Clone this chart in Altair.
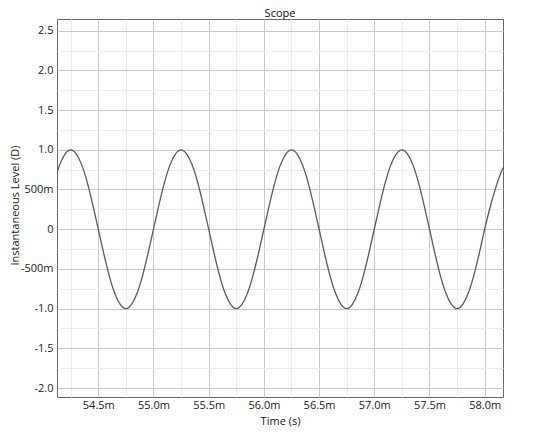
import altair as alt
import pandas as pd

# Time in milliseconds (axis labels carry the "m" suffix)
time_ms = [
    54.10, 54.15, 54.20, 54.25, 54.30, 54.35, 54.40, 54.45, 54.50, 54.55,
    54.60, 54.65, 54.70, 54.75, 54.80, 54.85, 54.90, 54.95,
    55.00, 55.05, 55.10, 55.15, 55.20, 55.25, 55.30, 55.35, 55.40, 55.45,
    55.50, 55.55, 55.60, 55.65, 55.70, 55.75, 55.80, 55.85, 55.90, 55.95,
    56.00, 56.05, 56.10, 56.15, 56.20, 56.25, 56.30, 56.35, 56.40, 56.45,
    56.50, 56.55, 56.60, 56.65, 56.70, 56.75, 56.80, 56.85, 56.90, 56.95,
    57.00, 57.05, 57.10, 57.15, 57.20, 57.25, 57.30, 57.35, 57.40, 57.45,
    57.50, 57.55, 57.60, 57.65, 57.70, 57.75, 57.80, 57.85, 57.90, 57.95,
    58.00, 58.05, 58.10, 58.15, 58.20,
]
level = [
    0.59, 0.81, 0.95, 1.00, 0.95, 0.81, 0.59, 0.31, 0.00, -0.31,
    -0.59, -0.81, -0.95, -1.00, -0.95, -0.81, -0.59, -0.31,
    0.00, 0.31, 0.59, 0.81, 0.95, 1.00, 0.95, 0.81, 0.59, 0.31,
    0.00, -0.31, -0.59, -0.81, -0.95, -1.00, -0.95, -0.81, -0.59, -0.31,
    0.00, 0.31, 0.59, 0.81, 0.95, 1.00, 0.95, 0.81, 0.59, 0.31,
    0.00, -0.31, -0.59, -0.81, -0.95, -1.00, -0.95, -0.81, -0.59, -0.31,
    0.00, 0.31, 0.59, 0.81, 0.95, 1.00, 0.95, 0.81, 0.59, 0.31,
    0.00, -0.31, -0.59, -0.81, -0.95, -1.00, -0.95, -0.81, -0.59, -0.31,
    0.00, 0.28, 0.52, 0.72, 0.86,
]

x_ticks = [54.25, 54.5, 54.75, 55.0, 55.25, 55.5, 55.75, 56.0, 56.25, 56.5,
           56.75, 57.0, 57.25, 57.5, 57.75, 58.0]
y_ticks = [-2.0, -1.75, -1.5, -1.25, -1.0, -0.75, -0.5, -0.25, 0.0, 0.25,
           0.5, 0.75, 1.0, 1.25, 1.5, 1.75, 2.0, 2.25, 2.5]

x_domain = [54.126, 58.166]
y_domain = [-2.113, 2.647]

df = pd.DataFrame({"t": time_ms, "v": level})

FONT = "Open Sans"
MAJOR = "abs(datum.value*2 - round(datum.value*2)) < 0.001"

x_label_expr = f"({MAJOR}) ? format(datum.value, '.1f') + 'm' : ''"
y_label_expr = (
    f"!({MAJOR}) ? '' : (datum.value == 0 ? '0' : "
    "(abs(datum.value) < 1 ? (datum.value < 0 ? '-' : '') + format(abs(datum.value) * 1000, 'd') + 'm' : "
    "(datum.value < 0 ? '-' : '') + format(abs(datum.value), '.1f')))"
)

grid_color = {"condition": {"test": MAJOR, "value": "#c9c9c9"}, "value": "#ececec"}

chart = (
    alt.Chart(df)
    .mark_line(color="#515872", strokeWidth=1.3, interpolate="natural", clip=True)
    .encode(
        x=alt.X(
            "t:Q",
            scale=alt.Scale(domain=x_domain, nice=False, zero=False),
            axis=alt.Axis(
                values=x_ticks,
                labelExpr=x_label_expr,
                gridColor=grid_color,
                title="Time (s)",
                titleY=24,
                titleBaseline="middle",
                labelPadding=2,
                labelFlush=False,
            ),
        ),
        y=alt.Y(
            "v:Q",
            scale=alt.Scale(domain=y_domain, nice=False, zero=False),
            axis=alt.Axis(
                values=y_ticks,
                labelExpr=y_label_expr,
                gridColor=grid_color,
                title="Instantaneous Level (D)",
                titleX=-48,
                titleY=186,
                titleBaseline="top",
                labelPadding=4,
                labelFlush=False,
            ),
        ),
    )
    .properties(
        width=446,
        height=378,
        title=alt.TitleParams(
            "Scope", font=FONT, fontSize=11, fontWeight="normal", color="#111111",
            anchor="middle", baseline="alphabetic", offset=2, frame="group", dy=11,
        ),
        autosize=alt.AutoSizeParams(type="none"),
        padding={"left": 49, "top": 11, "right": 15, "bottom": 30},
    )
    .configure_view(stroke="#666666", strokeWidth=1)
    .configure_axis(
        domain=False,
        ticks=False,
        grid=True,
        gridWidth=1,
        labelFont=FONT,
        labelFontSize=11,
        labelColor="#222222",
        titleFont=FONT,
        titleFontSize=11,
        titleFontWeight="normal",
        titleColor="#222222",
    )
)

chart.save("out.html", embed_options={"renderer": "svg", "actions": False})
